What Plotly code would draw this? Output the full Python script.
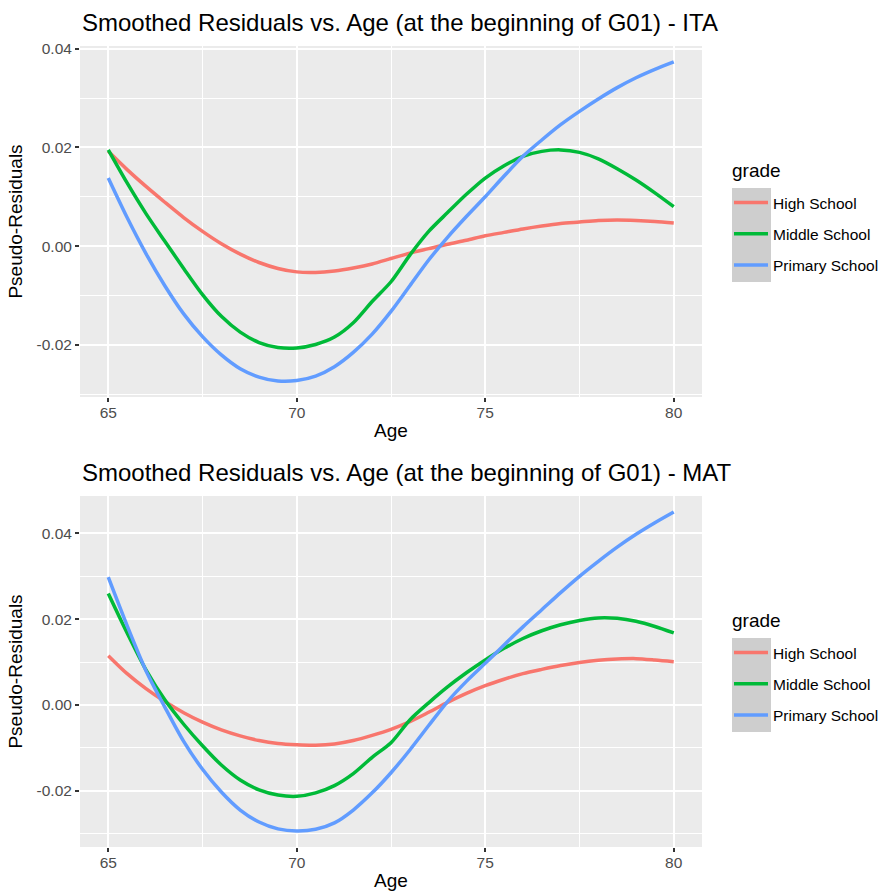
import plotly.graph_objects as go

# ---------------- data ----------------
AGE = [65, 65.5, 66, 66.5, 67, 67.5, 68, 68.5, 69, 69.5, 70, 70.5, 71, 71.5, 72, 72.5,
       73, 73.5, 74, 74.5, 75, 75.5, 76, 76.5, 77, 77.5, 78, 78.5, 79, 79.5, 80]

GRADES = ["High School", "Middle School", "Primary School"]
COLORS = ["#F8766D", "#00BA38", "#619CFF"]

ITA_HIGH = [0.0192, 0.0155, 0.0121, 0.0089, 0.0058, 0.0030, 0.0005, -0.0016, -0.0033, -0.0045,
            -0.0052, -0.0053, -0.0050, -0.0044, -0.0036, -0.0025, -0.0014, -0.0005, 0.0004, 0.0012,
            0.0021, 0.0028, 0.0035, 0.0041, 0.0046, 0.0049, 0.0052, 0.0053, 0.0052, 0.0050, 0.0047]
ITA_MIDDLE = [0.0195, 0.0128, 0.0066, 0.0010, -0.0045, -0.0098, -0.0142, -0.0174, -0.0195, -0.0205,
              -0.0206, -0.0199, -0.0184, -0.0155, -0.0112, -0.0072, -0.0018, 0.0030, 0.0068, 0.0105,
              0.0138, 0.0163, 0.0182, 0.0192, 0.0195, 0.0190, 0.0177, 0.0157, 0.0134, 0.0108, 0.0080]
ITA_PRIMARY = [0.0138, 0.0058, -0.0015, -0.0080, -0.0137, -0.0183, -0.0220, -0.0248, -0.0265, -0.0273,
               -0.0272, -0.0263, -0.0244, -0.0215, -0.0178, -0.0132, -0.0080, -0.0028, 0.0018, 0.0060,
               0.0100, 0.0142, 0.0182, 0.0215, 0.0246, 0.0273, 0.0298, 0.0321, 0.0341, 0.0358, 0.0373]

MAT_HIGH = [0.0115, 0.0073, 0.0038, 0.0008, -0.0018, -0.0040, -0.0058, -0.0072, -0.0083, -0.0090,
            -0.0093, -0.0094, -0.0091, -0.0083, -0.0071, -0.0057, -0.0039, -0.0017, 0.0006, 0.0027,
            0.0045, 0.0060, 0.0073, 0.0083, 0.0092, 0.0099, 0.0104, 0.0107, 0.0108, 0.0105, 0.0101]
MAT_MIDDLE = [0.0260, 0.0168, 0.0082, 0.0012, -0.0045, -0.0095, -0.0140, -0.0175, -0.0198, -0.0210,
              -0.0213, -0.0205, -0.0188, -0.0160, -0.0122, -0.0088, -0.0035, 0.0005, 0.0042, 0.0075,
              0.0105, 0.0132, 0.0155, 0.0173, 0.0187, 0.0197, 0.0203, 0.0202, 0.0195, 0.0183, 0.0168]
MAT_PRIMARY = [0.0298, 0.0185, 0.0080, -0.0005, -0.0085, -0.0150, -0.0203, -0.0245, -0.0273, -0.0289,
               -0.0294, -0.0290, -0.0275, -0.0245, -0.0205, -0.0158, -0.0105, -0.0048, 0.0008, 0.0055,
               0.0097, 0.0140, 0.0182, 0.0222, 0.0262, 0.0300, 0.0335, 0.0368, 0.0398, 0.0425, 0.0450]

X_TICKS = [65, 70, 75, 80]
X_TICK_LABELS = ["65", "70", "75", "80"]
X_MINOR = [67.5, 72.5, 77.5]
Y_TICKS = [-0.02, 0.0, 0.02, 0.04]
Y_TICK_LABELS = ["-0.02", "0.00", "0.02", "0.04"]
Y_MINOR = [-0.03, -0.01, 0.01, 0.03]

TITLE_ITA = "Smoothed Residuals vs. Age (at the beginning of G01) - ITA"
TITLE_MAT = "Smoothed Residuals vs. Age (at the beginning of G01) - MAT"
LEGEND_TITLE = "grade"

# ---------------- figure ----------------
W, H = 887, 894
FONT = "Liberation Sans, Arial, sans-serif"


def fx(p):
    return p / W


def fy(p):
    return 1 - p / H


def expand(lo, hi, f=0.05):
    d = (hi - lo) * f
    return [lo - d, hi + d]


fig = go.Figure()

panels = [
    ("x", "y", "legend", [ITA_HIGH, ITA_MIDDLE, ITA_PRIMARY], "ita"),
    ("x2", "y2", "legend2", [MAT_HIGH, MAT_MIDDLE, MAT_PRIMARY], "mat"),
]
for xa, ya, leg, series, tag in panels:
    for name, col, vals in zip(GRADES, COLORS, series):
        fig.add_trace(go.Scatter(
            x=AGE, y=vals, mode="lines", name=name,
            line=dict(color=col, width=3.5, shape="spline", smoothing=0.8),
            xaxis=xa, yaxis=ya, legend=leg, legendgroup=tag + name,
            hoverinfo="skip",
        ))

xrange = expand(min(AGE), max(AGE))
y1r = expand(min(min(s) for s in [ITA_HIGH, ITA_MIDDLE, ITA_PRIMARY]),
             max(max(s) for s in [ITA_HIGH, ITA_MIDDLE, ITA_PRIMARY]))
y2r = expand(min(min(s) for s in [MAT_HIGH, MAT_MIDDLE, MAT_PRIMARY]),
             max(max(s) for s in [MAT_HIGH, MAT_MIDDLE, MAT_PRIMARY]))

common_x = dict(
    range=xrange, tickmode="array", tickvals=X_TICKS, ticktext=X_TICK_LABELS,
    ticks="outside", ticklen=4, tickwidth=1.5, tickcolor="#333333",
    tickfont=dict(size=15.5, color="#4D4D4D", family=FONT), ticklabelstandoff=-3,
    showgrid=True, gridcolor="white", gridwidth=1.6,
    minor=dict(tickmode="array", tickvals=X_MINOR, showgrid=True, gridcolor="white",
               gridwidth=0.8, ticks=""),
    zeroline=False, showline=False, fixedrange=True, automargin=False,
    title=dict(text="Age", font=dict(size=19, color="black", family=FONT), standoff=4),
)
common_y = dict(
    tickmode="array", tickvals=Y_TICKS, ticktext=Y_TICK_LABELS,
    ticks="outside", ticklen=4, tickwidth=1.5, tickcolor="#333333",
    tickfont=dict(size=15.5, color="#4D4D4D", family=FONT),
    showgrid=True, gridcolor="white", gridwidth=1.6,
    minor=dict(tickmode="array", tickvals=Y_MINOR, showgrid=True, gridcolor="white",
               gridwidth=0.8, ticks=""),
    zeroline=False, showline=False, fixedrange=True, automargin=False,
    title=dict(text="Pseudo-Residuals", font=dict(size=19, color="black", family=FONT), standoff=8),
)

legend_common = dict(
    font=dict(size=15.5, color="black", family=FONT),
    xanchor="left", yanchor="top",
    bgcolor="rgba(0,0,0,0)", tracegroupgap=8, itemwidth=34,
)

fig.update_layout(
    width=W, height=H,
    margin=dict(l=0, r=0, t=0, b=0, autoexpand=False),
    paper_bgcolor="white", plot_bgcolor="#EBEBEB",
    font=dict(family=FONT, color="black"),
    xaxis=dict(common_x, domain=[fx(80), fx(702)], anchor="y"),
    yaxis=dict(common_y, domain=[fy(397), fy(46)], range=y1r, anchor="x"),
    xaxis2=dict(common_x, domain=[fx(80), fx(702)], anchor="y2"),
    yaxis2=dict(common_y, domain=[fy(847), fy(496)], range=y2r, anchor="x2"),
    legend=dict(legend_common, x=fx(729), y=fy(186)),
    legend2=dict(legend_common, x=fx(729), y=fy(636)),
    shapes=[
        dict(type="rect", xref="paper", yref="paper", x0=fx(732), x1=fx(771),
             y0=fy(282), y1=fy(188), fillcolor="#CECECE", line=dict(width=0), layer="below"),
        dict(type="rect", xref="paper", yref="paper", x0=fx(732), x1=fx(771),
             y0=fy(732), y1=fy(638), fillcolor="#CECECE", line=dict(width=0), layer="below"),
    ],
    annotations=[
        dict(text=TITLE_ITA, xref="paper", yref="paper", x=fx(80), y=fy(22),
             xanchor="left", yanchor="middle", showarrow=False,
             font=dict(size=24, color="black", family=FONT)),
        dict(text=TITLE_MAT, xref="paper", yref="paper", x=fx(80), y=fy(472),
             xanchor="left", yanchor="middle", showarrow=False,
             font=dict(size=24, color="black", family=FONT)),
        dict(text=LEGEND_TITLE, xref="paper", yref="paper", x=fx(730), y=fy(170),
             xanchor="left", yanchor="middle", showarrow=False,
             font=dict(size=19, color="black", family=FONT)),
        dict(text=LEGEND_TITLE, xref="paper", yref="paper", x=fx(730), y=fy(620),
             xanchor="left", yanchor="middle", showarrow=False,
             font=dict(size=19, color="black", family=FONT)),
    ],
)

fig.write_html("out.html")
